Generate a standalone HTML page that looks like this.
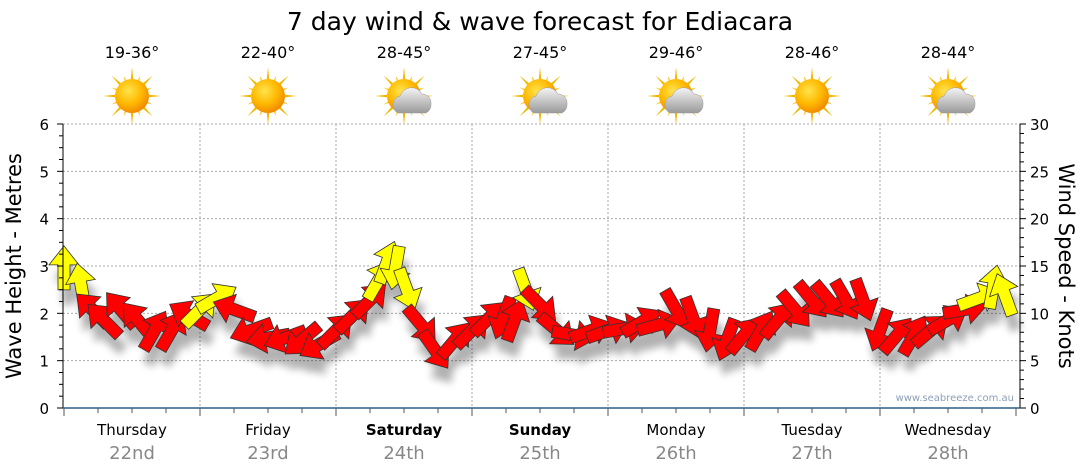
<!DOCTYPE html>
<html><head><meta charset="utf-8"><style>
body{margin:0;background:#fff;}
svg{display:block;font-family:"DejaVu Sans","Liberation Sans",sans-serif;}
</style></head><body>
<svg id="c" width="1080" height="475" viewBox="0 0 1080 475">
<defs>
<radialGradient id="sun" cx="40%" cy="35%" r="65%"><stop offset="0" stop-color="#ffe34a"/><stop offset="0.6" stop-color="#ffb800"/><stop offset="1" stop-color="#f08c00"/></radialGradient>
<linearGradient id="cloud" x1="0" y1="0" x2="0" y2="1"><stop offset="0" stop-color="#f4f4f4"/><stop offset="1" stop-color="#9a9a9a"/></linearGradient>
<filter id="sh" x="-50%" y="-50%" width="200%" height="200%"><feGaussianBlur stdDeviation="4"/></filter>
</defs>
<text x="540" y="30" text-anchor="middle" font-size="25" fill="#000">7 day wind &amp; wave forecast for Ediacara</text>
<g id="grid"></g><g id="icons"></g><g id="shadows" filter="url(#sh)" opacity="0.3"></g><g id="arrows"></g><g id="axes"></g>
<text x="1014" y="401" text-anchor="end" font-size="10" fill="#8da0b8">www.seabreeze.com.au</text>
<text transform="translate(21,266) rotate(-90)" text-anchor="middle" font-size="21" fill="#000">Wave Height - Metres</text>
<text transform="translate(1059,266) rotate(90)" text-anchor="middle" font-size="21" fill="#000">Wind Speed - Knots</text>
</svg>
<script>
const days=["Thursday","Friday","Saturday","Sunday","Monday","Tuesday","Wednesday"];
const dates=["22nd","23rd","24th","25th","26th","27th","28th"];
const temps=["19-36°","22-40°","28-45°","27-45°","29-46°","28-46°","28-44°"];
const cloudy=[false,false,true,true,true,false,true];
const hours=[0,3,5,7,10,13,16,19,22,24,27,30,33,36,39,42,45,48,51,54,55.5,57,58.5,60.5,63,65.5,69,72,75,77.5,79.5,81.5,84,87,90,93,96,99,102,105,108,111,114,117,120,123,126,129,132,135,138,141,144,147,150,153,156,159,161.5,164,166];
const knots=[14.8,13.0,10.4,9.3,10.4,9.3,8.2,8.2,9.8,10.4,11.6,10.4,8.2,7.4,7.4,7.2,6.7,8.2,9.8,11.4,13.5,15.4,14.8,12.5,8.8,6.1,7.2,8.2,9.5,9.5,9.3,12.5,10.9,8.2,7.7,8.2,8.2,8.4,9.1,8.8,10.4,9.5,8.2,7.2,7.7,8.2,9.3,10.4,11.4,11.4,11.4,11.4,8.2,7.7,7.7,8.2,9.3,10.4,11.6,12.8,12.0];
const dirs=[0,350,315,315,320,320,30,30,300,45,60,290,250,260,250,230,240,45,45,45,30,20,190,160,140,145,40,45,45,200,20,160,135,130,100,70,70,80,60,75,150,160,190,200,40,30,40,140,140,140,150,160,200,40,30,50,60,80,70,10,340];
const strong=[1,1,0,0,0,0,0,0,0,1,1,0,0,0,0,0,0,0,0,0,1,1,1,1,0,0,0,0,0,0,0,1,0,0,0,0,0,0,0,0,0,0,0,0,0,0,0,0,0,0,0,0,0,0,0,0,0,0,1,1,1];
const L=63,R=1020,T=124,B=408,X0=64,DW=136;
const NS="http://www.w3.org/2000/svg";
function mk(t,a,p){const e=document.createElementNS(NS,t);for(const k in a)e.setAttribute(k,a[k]);p.appendChild(e);return e;}
const ym=v=>B-(v/6)*(B-T), yk=v=>B-(v/30)*(B-T), xh=h=>X0+h/24*DW;
const grid=document.getElementById('grid'),axes=document.getElementById('axes'),icons=document.getElementById('icons');
for(let m=1;m<=6;m++){const g=mk('line',{x1:L,x2:R,y1:ym(m),y2:ym(m),stroke:'#aaa','stroke-dasharray':'2,2'},grid);

}
for(let d=1;d<7;d++){const g=mk('line',{x1:X0+d*DW,x2:X0+d*DW,y1:T,y2:B,stroke:'#aaa','stroke-dasharray':'2,2'},grid);

}
mk('line',{x1:L,x2:L,y1:T,y2:B,stroke:'#000'},axes);
mk('line',{x1:R,x2:R,y1:T,y2:B,stroke:'#000'},axes);
mk('line',{x1:L,x2:R,y1:B,y2:B,stroke:'#2a5f86','stroke-width':1.5},axes);
for(let i=0;i<=24;i++){const v=i/4;mk('line',{x1:L-(i%4?4:6),x2:L,y1:ym(v),y2:ym(v),stroke:'#000'},axes);
if(i%4==0){const t=mk('text',{x:L-14,y:ym(v)+6,'text-anchor':'end','font-size':15},axes);t.textContent=v;

}}
for(let k=0;k<=30;k++){mk('line',{x1:R,x2:R+(k%5?4:6),y1:yk(k),y2:yk(k),stroke:'#000'},axes);
if(k%5==0){const t=mk('text',{x:R+10,y:yk(k)+6,'font-size':15},axes);t.textContent=k;

}}
for(let h=0;h<=168;h+=6){const x=xh(h);if(x>R)break;mk('line',{x1:x,x2:x,y1:B,y2:B+(h%24?5:8),stroke:'#555'},axes);}
for(let d=0;d<7;d++){const cx=X0+d*DW+DW/2;
const t=mk('text',{x:cx,y:435,'text-anchor':'middle','font-size':15,'font-weight':(d==2||d==3)?'bold':'normal'},axes);t.textContent=days[d];


const t2=mk('text',{x:cx,y:459,'text-anchor':'middle','font-size':18,fill:'#888'},axes);t2.textContent=dates[d];


const t3=mk('text',{x:cx,y:58,'text-anchor':'middle','font-size':16},icons);t3.textContent=temps[d];


const g=mk('g',{transform:`translate(${cx},96)`},icons);


for(let r=0;r<16;r++){const a=r*22.5,len=r%2?22:29;mk('polygon',{points:`-3,0 3,0 0,-${len}`,fill:'#f5b800',transform:`rotate(${a})`},g);}
mk('circle',{r:17,fill:'url(#sun)'},g);
if(cloudy[d]){mk('path',{d:'M-6,17 a9,9 0 0 1 2,-17 a12,12 0 0 1 22,-2 a9,9 0 0 1 9,10 a9,9 0 0 1 -5,9 z',fill:'url(#cloud)',stroke:'#999','stroke-width':0.5},g);}
}
const sh=document.getElementById('shadows'),ar=document.getElementById('arrows');
const pts="0,-22 15,-3 6,-3 6,22 -6,22 -6,-3 -15,-3";
for(let i=0;i<knots.length;i++){const x=xh(hours[i]),y=yk(knots[i]);
mk('polygon',{points:pts,fill:'#000',transform:`translate(${x+4},${y+15}) rotate(${dirs[i]})`},sh);
const p=mk('polygon',{points:pts,fill:strong[i]?'#ffff00':'#ff0000',stroke:'#333','stroke-width':0.8,transform:`translate(${x},${y}) rotate(${dirs[i]})`},ar);

}
</script>
</body></html>
